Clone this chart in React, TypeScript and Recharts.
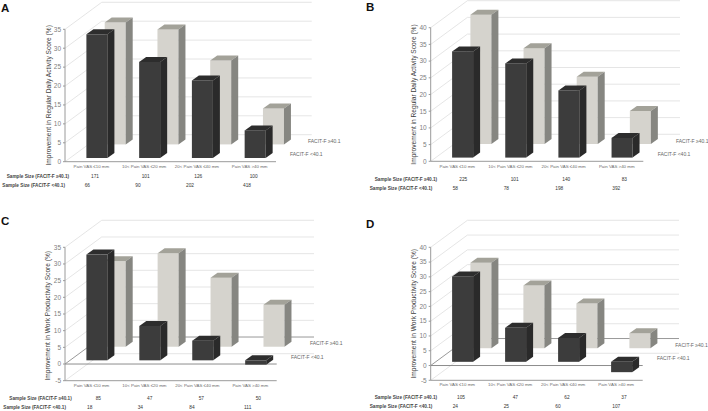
import { BarChart, Bar, XAxis, YAxis, ReferenceLine } from 'recharts';

const FONT = '"Liberation Sans", Arial, sans-serif';

const categories = ['Pain VAS ≤10 mm', '10< Pain VAS ≤20 mm', '20< Pain VAS ≤40 mm', 'Pain VAS >40 mm'];

const highA = [32.2, 30.4, 22.2, 9.5];
const lowA = [32.7, 25.4, 20.5, 7.3];
const sizeHighA = ['171', '101', '126', '100'];
const sizeLowA = ['66', '90', '202', '418'];

const highB = [38.7, 28.7, 20.1, 9.9];
const lowB = [31.8, 28.2, 20.1, 5.9];
const sizeHighB = ['225', '101', '140', '83'];
const sizeLowB = ['58', '78', '198', '392'];

const highC = [25.6, 28, 20.7, 12.6];
const lowC = [31.7, 10.3, 5.9, -1.3];
const sizeHighC = ['85', '47', '57', '50'];
const sizeLowC = ['18', '34', '84', '111'];

const highD = [28.9, 21.2, 15.1, 5.1];
const lowD = [28.9, 11.5, 8.1, -3.5];
const sizeHighD = ['105', '47', '62', '37'];
const sizeLowD = ['24', '25', '60', '107'];

const ticksAC = [0, 5, 10, 15, 20, 25, 30, 35];
const ticksB = [0, 5, 10, 15, 20, 25, 30, 35, 40];
const ticksC = [-5, 0, 5, 10, 15, 20, 25, 30, 35];
const ticksD = [-5, 0, 5, 10, 15, 20, 25, 30, 35, 40];

const DAILY = 'Improvement in Regular Daily Activity Score (%)';
const WORK = 'Improvement in Work Productivity Score (%)';

const WALL_DX = 36.7;
const WALL_DY = 27;

const frontColors = { face: '#3c3c3c', side: '#2a2a2a', top: '#2d2d2d' };
const backColors = { face: '#d5d3cd', side: '#868681', top: '#a3a299' };

// extruded box, shifted back along the floor by (dx, dy)
function box(colors: typeof frontColors, dx: number, dy: number) {
  return (props: any) => {
    const h = Math.abs(props.height);
    const y = (props.height < 0 ? props.y + props.height : props.y) + dy;
    const x = props.x + dx;
    const w = props.width;
    const d = 7;
    const up = 5;
    return (
      <g>
        <rect x={x} y={y} width={w} height={h} fill={colors.face} />
        <polygon
          points={`${x},${y} ${x + d},${y - up} ${x + w + d},${y - up} ${x + w},${y}`}
          fill={colors.top}
        />
        <polygon
          points={`${x + w},${y} ${x + w + d},${y - up} ${x + w + d},${y + h - up} ${x + w},${y + h}`}
          fill={colors.side}
        />
      </g>
    );
  };
}

function wallLine(wallRight: number, color: string) {
  return (props: any) => (
    <path
      d={`M${props.x1},${props.y1} L${props.x1 + WALL_DX},${props.y1 - WALL_DY} L${wallRight},${props.y1 - WALL_DY}`}
      fill="none"
      stroke={color}
      strokeWidth={0.8}
    />
  );
}

type PanelProps = {
  letter: string;
  letterX: number;
  letterY: number;
  left: number;
  top: number;
  height: number;
  plotLeft: number;
  plotRight: number;
  plotTop: number;
  plotBottom: number;
  wallRight: number;
  ticks: number[];
  title: string;
  titleX: number;
  titleY: number;
  high: number[];
  low: number[];
  sizeHigh: string[];
  sizeLow: string[];
  catY: number;
  row1X: number[];
  row2X: number[];
  row1Y: number;
  row2Y: number;
  head1X: number;
  head2X: number;
  legend1: number[];
  legend2: number[];
};

function Panel(p: PanelProps) {
  const data = categories.map((name, i) => ({ name, high: p.high[i], low: p.low[i] }));
  const hasNegative = p.ticks[0] < 0;

  const xTick = (t: any) => (
    <g fontFamily={FONT}>
      <text x={t.x} y={p.catY} textAnchor="middle" dominantBaseline="middle" fontSize={4.4} fill="#6a6a6a">
        {t.payload.value}
      </text>
      <text x={p.row1X[t.index]} y={p.row1Y} textAnchor="middle" dominantBaseline="middle" fontSize={4.8} fill="#333">
        {p.sizeHigh[t.index]}
      </text>
      <text x={p.row2X[t.index]} y={p.row2Y} textAnchor="middle" dominantBaseline="middle" fontSize={4.8} fill="#333">
        {p.sizeLow[t.index]}
      </text>
    </g>
  );

  return (
    <div style={{ position: 'absolute', left: p.left, top: p.top, width: 354, height: p.height }}>
      <BarChart
        width={354}
        height={p.height}
        data={data}
        barSize={21}
        barGap={-21}
        barCategoryGap={0}
        margin={{ left: 0, right: 354 - p.plotRight, top: p.plotTop, bottom: 0 }}
      >
        <XAxis
          dataKey="name"
          interval={0}
          height={p.height - p.plotBottom}
          tickLine={false}
          stroke="#9a9a9a"
          tick={xTick}
        />
        <YAxis
          type="number"
          width={p.plotLeft}
          domain={[p.ticks[0], p.ticks[p.ticks.length - 1]]}
          ticks={p.ticks}
          interval={0}
          tickSize={2}
          tickMargin={2}
          stroke="#9a9a9a"
          tick={{ fontSize: 6.5, fontFamily: FONT, fill: '#808080' }}
          label={{
            content: () => (
              <text
                transform={`translate(${p.titleX},${p.titleY}) rotate(-90)`}
                textAnchor="middle"
                dominantBaseline="middle"
                fontFamily={FONT}
                fontSize={6.6}
                fill="#404040"
              >
                {p.title}
              </text>
            ),
          }}
        />
        {p.ticks.map((t) => (
          <ReferenceLine
            key={t}
            y={t}
            zIndex={0}
            shape={wallLine(p.wallRight, t === 0 && hasNegative ? '#7f7f7f' : '#dedede')}
          />
        ))}
        {hasNegative && <ReferenceLine y={0} zIndex={0} stroke="#7f7f7f" strokeWidth={0.9} />}
        <Bar dataKey="high" isAnimationActive={false} shape={box(backColors, 23.7, -17.3)} />
        <Bar dataKey="low" isAnimationActive={false} shape={box(frontColors, 5.4, -3.7)} />
      </BarChart>
      <svg
        width={354}
        height={p.height}
        style={{ position: 'absolute', left: 0, top: 0, pointerEvents: 'none', overflow: 'visible' }}
        fontFamily={FONT}
      >
        <text x={p.letterX} y={p.letterY} fontSize={11.5} fontWeight="bold" fill="#111">
          {p.letter}
        </text>
        <text x={p.head1X} y={p.row1Y} dominantBaseline="middle" fontSize={4.7} fontWeight="bold" fill="#444">
          Sample Size (FACIT-F ≥40.1)
        </text>
        <text x={p.head2X} y={p.row2Y} dominantBaseline="middle" fontSize={4.7} fontWeight="bold" fill="#444">
          Sample Size (FACIT-F &lt;40.1)
        </text>
        <text x={p.legend1[0]} y={p.legend1[1]} dominantBaseline="middle" fontSize={5} fill="#666">
          FACIT-F ≥40.1
        </text>
        <text x={p.legend2[0]} y={p.legend2[1]} dominantBaseline="middle" fontSize={5} fill="#666">
          FACIT-F &lt;40.1
        </text>
      </svg>
    </div>
  );
}

export default function App() {
  return (
    <div style={{ position: 'absolute', left: 0, top: 0, width: 708, height: 411, background: '#fff', overflow: 'hidden' }}>
      <Panel
        letter="A" letterX={1} letterY={12} left={0} top={0} height={205}
        plotLeft={65} plotRight={276} plotTop={29.3} plotBottom={161.7} wallRight={311.7}
        ticks={ticksAC} title={DAILY} titleX={49} titleY={95.3}
        high={highA} low={lowA} sizeHigh={sizeHighA} sizeLow={sizeLowA}
        catY={167.3} row1Y={177} row2Y={186}
        row1X={[95, 145.7, 198.3, 253.7]} row2X={[87.3, 138, 190, 247]}
        head1X={6.7} head2X={2.3} legend1={[308, 141.7]} legend2={[290, 155]}
      />
      <Panel
        letter="B" letterX={12} letterY={11} left={354} top={0} height={205}
        plotLeft={76.7} plotRight={289.3} plotTop={27.7} plotBottom={161.3} wallRight={326}
        ticks={ticksB} title={DAILY} titleX={60.7} titleY={94.5}
        high={highB} low={lowB} sizeHigh={sizeHighB} sizeLow={sizeLowB}
        catY={167} row1Y={179.3} row2Y={188.3}
        row1X={[109.3, 160.7, 212.3, 270.3]} row2X={[101.3, 152.3, 205.3, 262.3]}
        head1X={20.7} head2X={15.7} legend1={[322, 141.3]} legend2={[303.7, 155]}
      />
      <Panel
        letter="C" letterX={1} letterY={20} left={0} top={205} height={206}
        plotLeft={65} plotRight={276.7} plotTop={42.3} plotBottom={175.7} wallRight={314}
        ticks={ticksC} title={WORK} titleX={48} titleY={110.8}
        high={highC} low={lowC} sizeHigh={sizeHighC} sizeLow={sizeLowC}
        catY={181} row1Y={193.7} row2Y={202.3}
        row1X={[98.3, 149.7, 201.3, 258.3]} row2X={[89.7, 140.3, 192, 247.7]}
        head1X={9.3} head2X={3.3} legend1={[310, 138.7]} legend2={[291, 152.3]}
      />
      <Panel
        letter="D" letterX={12} letterY={23} left={354} top={205} height={206}
        plotLeft={76.7} plotRight={288.7} plotTop={42.3} plotBottom={175.3} wallRight={325}
        ticks={ticksD} title={WORK} titleX={60.7} titleY={108.8}
        high={highD} low={lowD} sizeHigh={sizeHighD} sizeLow={sizeLowD}
        catY={180.3} row1Y={193} row2Y={202}
        row1X={[107, 161.3, 213, 270]} row2X={[101.3, 152.3, 204, 262.3]}
        head1X={20.7} head2X={15.7} legend1={[321.3, 140.3]} legend2={[303, 153.7]}
      />
    </div>
  );
}
